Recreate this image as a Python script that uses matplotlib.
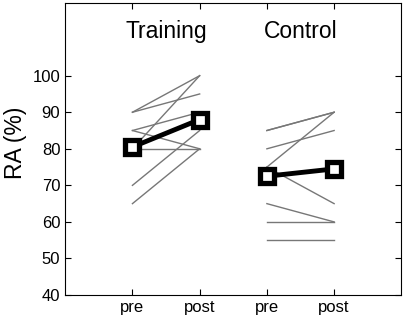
import matplotlib.pyplot as plt

plt.rcParams['font.family'] = ['Liberation Sans', 'DejaVu Sans']

# individual subjects, pre -> post
train_pre = [90, 90, 85, 85, 80, 80, 70, 65]
train_post = [100, 95, 90, 80, 80, 100, 85, 80]
ctrl_pre = [85, 85, 80, 75, 75, 65, 60, 55]
ctrl_post = [90, 90, 85, 90, 65, 60, 60, 55]

# group means
train_mean = [80.5, 88]
ctrl_mean = [72.5, 74.5]

groups = ['Training', 'Control']
tick_labels = ['pre', 'post', 'pre', 'post']

fig = plt.figure(figsize=(4.05, 3.2), dpi=100)
ax = fig.add_axes([0.161, 0.078, 0.83, 0.914])

for a, b in zip(train_pre, train_post):
    ax.plot([1, 2], [a, b], color='#777777', lw=1)
for a, b in zip(ctrl_pre, ctrl_post):
    ax.plot([3, 4], [a, b], color='#777777', lw=1)

for xs, m in [([1, 2], train_mean), ([3, 4], ctrl_mean)]:
    ax.plot(xs, m, color='black', lw=3.5, marker='s', ms=9.5,
            mfc='white', mec='black', mew=3.8, zorder=5)

ax.text(1.5, 112.2, groups[0], ha='center', va='center', fontsize=16.5)
ax.text(3.5, 112.2, groups[1], ha='center', va='center', fontsize=16.5)

ax.set_xlim(0, 5)
ax.set_ylim(40, 120)
ax.set_xticks([1, 2, 3, 4])
ax.set_xticklabels(tick_labels, fontsize=12)
ax.set_yticks(range(40, 101, 10))
ax.tick_params(axis='y', labelsize=12)
ax.tick_params(direction='in', top=True, right=True, length=4, width=0.8)
ax.set_ylabel('RA (%)', fontsize=16.5)
ax.yaxis.set_label_coords(-0.115, 0.522)

for s in ax.spines.values():
    s.set_linewidth(0.8)

fig.savefig('out.png', dpi=100)
